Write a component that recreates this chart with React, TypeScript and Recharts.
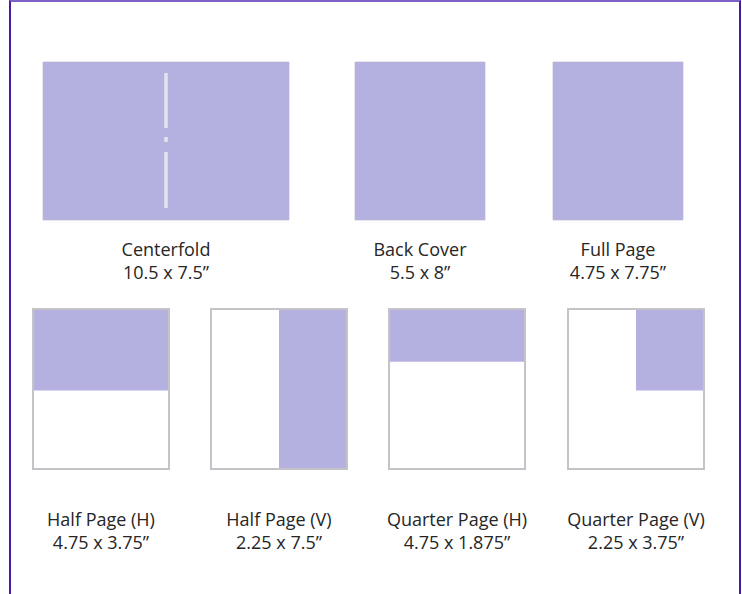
import React from "react";
import { ComposedChart, XAxis, YAxis, Line, ReferenceArea, ReferenceLine } from "recharts";

// ad formats, in reading order
const adNames = [
  "Centerfold",
  "Back Cover",
  "Full Page",
  "Half Page (H)",
  "Half Page (V)",
  "Quarter Page (H)",
  "Quarter Page (V)",
];
const adSizes = [
  "10.5 x 7.5\u201d",
  "5.5 x 8\u201d",
  "4.75 x 7.75\u201d",
  "4.75 x 3.75\u201d",
  "2.25 x 7.5\u201d",
  "4.75 x 1.875\u201d",
  "2.25 x 3.75\u201d",
];
// part of the page the ad covers, as fractions [from, to]
const coverX = [[0, 1], [0, 1], [0, 1], [0, 1], [0.5, 1], [0, 1], [0.5, 1]];
const coverY = [[0, 1], [0, 1], [0, 1], [0, 0.51], [0, 1], [0, 0.33], [0, 0.51]];
// spreads that show a fold line
const foldAt = [0.5, null, null, null, null, null, null];
// page corners, keeps the axes alive
const pageCorners = [
  { x: 0, y: 0 },
  { x: 1, y: 1 },
];

// layout only
const boxes = [
  { left: 42, top: 61, w: 248, h: 160, outline: false },
  { left: 354, top: 61, w: 132, h: 160, outline: false },
  { left: 552, top: 61, w: 132, h: 160, outline: false },
  { left: 32, top: 308, w: 138, h: 162, outline: true },
  { left: 210, top: 308, w: 138, h: 162, outline: true },
  { left: 388, top: 308, w: 138, h: 162, outline: true },
  { left: 567, top: 308, w: 138, h: 162, outline: true },
];

const FILL = "#b4b0e0";
const EDGE = "#c4c4c8";
const FONT = "'Open Sans', Lato, sans-serif";

function AdPanel({ i }: { i: number }) {
  const b = boxes[i];
  const fold = foldAt[i];
  return (
    <ComposedChart
      width={b.w}
      height={b.h}
      margin={{ top: 1, right: 1, bottom: 1, left: 1 }}
      data={pageCorners}
    >
      <XAxis type="number" dataKey="x" domain={[0, 1]} hide />
      <YAxis type="number" dataKey="y" domain={[0, 1]} reversed hide />
      <Line dataKey="y" stroke="none" dot={false} activeDot={false} isAnimationActive={false} />
      <ReferenceArea
        x1={0}
        x2={1}
        y1={0}
        y2={1}
        fill="#ffffff"
        fillOpacity={1}
        stroke={b.outline ? EDGE : "#cfcfd6"}
        strokeWidth={b.outline ? 2 : 1}
      />
      <ReferenceArea
        x1={coverX[i][0]}
        x2={coverX[i][1]}
        y1={coverY[i][0]}
        y2={coverY[i][1]}
        fill={FILL}
        fillOpacity={1}
        stroke="none"
      />
      {b.outline && (
        <ReferenceArea x1={0} x2={1} y1={0} y2={1} fill="none" stroke={EDGE} strokeWidth={2} />
      )}
      {fold != null && (
        <ReferenceLine
          segment={[
            { x: fold, y: 0.07 },
            { x: fold, y: 0.94 },
          ]}
          stroke="#e4e4ec"
          strokeWidth={3.5}
          strokeDasharray="55 9 5 10 56 200"
        />
      )}
    </ComposedChart>
  );
}

export default function App() {
  const labelTop = [238, 238, 238, 508, 508, 508, 508];
  return (
    <div
      style={{
        position: "absolute",
        left: 0,
        top: 0,
        width: 742,
        height: 594,
        background: "#ffffff",
        overflow: "hidden",
        fontFamily: FONT,
      }}
    >
      <div
        style={{
          position: "absolute",
          left: 9,
          top: 0,
          width: 728,
          height: 620,
          borderLeft: "2px solid #4a1aa6",
          borderRight: "2px solid #4a1aa6",
          borderTop: "2px solid #7e62c8",
        }}
      />
      {adNames.map((name, i) => {
        const b = boxes[i];
        return (
          <React.Fragment key={name}>
            <div style={{ position: "absolute", left: b.left, top: b.top }}>
              <AdPanel i={i} />
            </div>
            <div
              style={{
                position: "absolute",
                left: b.left + b.w / 2 - 90,
                top: labelTop[i],
                width: 180,
                textAlign: "center",
                fontSize: 18,
                fontWeight: 500,
                lineHeight: "23px",
                color: "#262626",
              }}
            >
              <div>{name}</div>
              <div>{adSizes[i]}</div>
            </div>
          </React.Fragment>
        );
      })}
    </div>
  );
}
